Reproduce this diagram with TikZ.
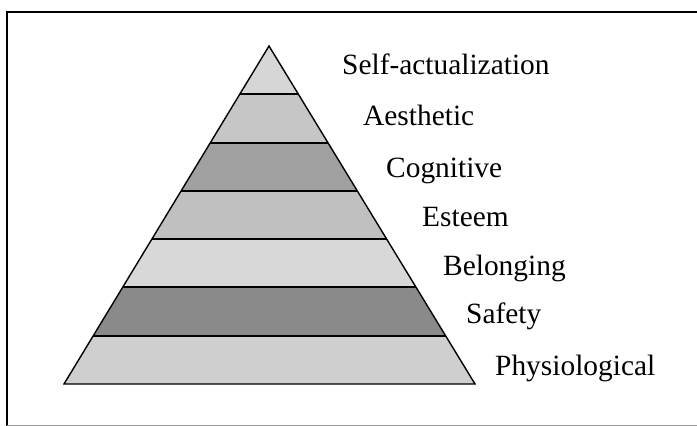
\documentclass[tikz,border=0pt]{standalone}
\usepackage{fontspec}
\setmainfont{Liberation Serif}
\usetikzlibrary{calc}
\definecolor{bandA}{HTML}{D6D6D6}
\definecolor{bandB}{HTML}{C6C6C6}
\definecolor{bandC}{HTML}{A0A0A0}
\definecolor{bandD}{HTML}{C0C0C0}
\definecolor{bandE}{HTML}{D8D8D8}
\definecolor{bandF}{HTML}{8A8A8A}
\definecolor{bandG}{HTML}{CFCFCF}
\definecolor{faintline}{HTML}{9A9A9A}
\tikzset{
  lbl/.style={font=\fontsize{29.4}{32}\selectfont, inner sep=0pt, anchor=base west, text=black},
  framebox/.style={draw=black, line width=1.5pt},
  framefaint/.style={draw=faintline, line width=1pt},
  sepline/.style={draw=black, line width=2pt},
  edgeline/.style={draw=black, line width=1.4pt, line join=miter},
}
\begin{document}
\begin{tikzpicture}[x=1pt,y=-1pt]
\useasboundingbox (0,0) rectangle (697,426);
\fill[white] (0,0) rectangle (697,426);
% frame
\draw[framebox] (710,12) -- (7,12) -- (7,426);
\draw[framefaint] (7,425) -- (710,425);
% pyramid corners
\coordinate (A) at (269,46);
\coordinate (L) at (64,384);
\coordinate (R) at (475,384);
% bands
\foreach \c [count=\k from 0] in {bandA,bandB,bandC,bandD,bandE,bandF,bandG}{
  \pgfmathsetmacro{\fa}{\k/7}
  \pgfmathsetmacro{\fb}{(\k+1)/7}
  \fill[\c] ($(A)!\fa!(L)$) -- ($(A)!\fb!(L)$) -- ($(A)!\fb!(R)$) -- ($(A)!\fa!(R)$) -- cycle;
}
% separators
\foreach \k in {1,...,6}{
  \pgfmathsetmacro{\fa}{\k/7}
  \draw[sepline] ($(A)!\fa!(L)$) -- ($(A)!\fa!(R)$);
}
% outline
\draw[edgeline] (A) -- (L) -- (R) -- cycle;
% labels
\node[lbl] (t1) at (342,74) {Self-actualization};
\node[lbl] (t2) at (363,125) {Aesthetic};
\node[lbl] (t3) at (386,177) {Cognitive};
\node[lbl] (t4) at (422,226) {Esteem};
\node[lbl] (t5) at (443,275) {Belonging};
\node[lbl] (t6) at (466,323) {Safety};
\node[lbl] (t7) at (495,375) {Physiological};
\end{tikzpicture}
\end{document}
